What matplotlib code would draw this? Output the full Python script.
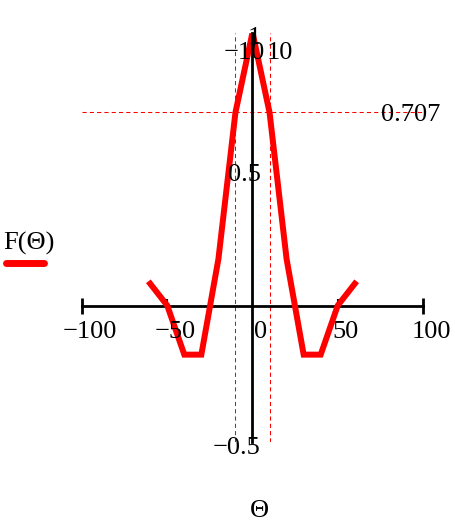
import matplotlib
matplotlib.use("Agg")
import matplotlib.pyplot as plt
from matplotlib.transforms import offset_copy
from matplotlib.lines import Line2D

# Data
theta = [-60, -50, -40, -30, -20, -10, 0, 10, 20, 30, 40, 50, 60]
F = [0.08, 0.0, -0.18, -0.18, 0.17, 0.707, 1.0, 0.707, 0.17, -0.18, -0.18, 0.0, 0.08]
x_ticks = [-100, -50, 0, 50, 100]
x_tick_labels = ["\u2212100", "\u221250", "0", "50", "100"]
y_ticks = [-0.5, 0.5, 1]
y_tick_labels = ["\u22120.5", "0.5", "1"]
marker_x = [-10, 10]
marker_x_labels = ["\u221210", "10"]
marker_y = 0.707
marker_y_label = "0.707"

W, H = 456, 529
plt.rcParams['font.family'] = ['Liberation Serif', 'DejaVu Serif']
FS = 19

fig = plt.figure(figsize=(W / 100, H / 100), dpi=100)
ax = fig.add_axes([82 / W, 87 / H, 341 / W, (442 - 32.5) / H])
ax.set_xlim(-100, 100)
ax.set_ylim(-0.5, 1)
ax.patch.set_visible(False)

for s in ['top', 'right']:
    ax.spines[s].set_visible(False)
ax.spines['left'].set_position(('data', 0))
ax.spines['bottom'].set_position(('data', 0))
ax.spines['left'].set_linewidth(2.0)
ax.spines['bottom'].set_linewidth(2.0)
ax.spines['left'].set_zorder(4)
ax.spines['bottom'].set_zorder(1.5)

ax.set_xticks([-100, 100])
ax.set_xticks([-50, 50], minor=True)
ax.tick_params(axis='x', which='major', direction='inout', length=11, width=2, labelbottom=False)
ax.tick_params(axis='x', which='minor', direction='in', length=5, width=1.5)
ax.set_yticks([])

# Marker lines
for mx in marker_x:
    ax.axvline(mx, color='red', lw=0.75, ls=(0, (4, 3)), zorder=1)
ax.axhline(marker_y, color='red', lw=0.75, ls=(0, (4, 3)), zorder=1)

# Curve
ax.plot(theta, F, color='#ff0000', lw=4.3, zorder=3, solid_joinstyle='miter')

def off(dx, dy):
    return offset_copy(ax.transData, fig=fig, x=dx, y=dy, units='dots')

for v, lab in zip(x_ticks, x_tick_labels):
    ax.text(v, 0, lab, transform=off(8, -32.5), ha='center', va='baseline', fontsize=FS, zorder=5)
for v, lab in zip(y_ticks, y_tick_labels):
    ax.text(0, v, lab, transform=off(8, -12), ha='right', va='baseline', fontsize=FS, zorder=5)
for v, lab, dx in zip(marker_x, marker_x_labels, [8.5, 10]):
    ax.text(v, 1, lab, transform=off(dx, -26.5), ha='center', va='baseline', fontsize=FS, zorder=5)
ax.text(100, marker_y, marker_y_label, transform=off(-42, -9), ha='left', va='baseline', fontsize=FS, zorder=5)

# Legend and axis label
fig.text(29 / W, 1 - 250 / H, "F(\u0398)", ha='center', va='baseline', fontsize=FS)
fig.add_artist(Line2D([6 / W, 44 / W], [1 - 263 / H, 1 - 263 / H], color='#ff0000', lw=5, solid_capstyle='round'))
fig.text(259 / W, 1 - 517 / H, "\u0398", ha='center', va='baseline', fontsize=FS)

fig.savefig("out.png", dpi=100)
